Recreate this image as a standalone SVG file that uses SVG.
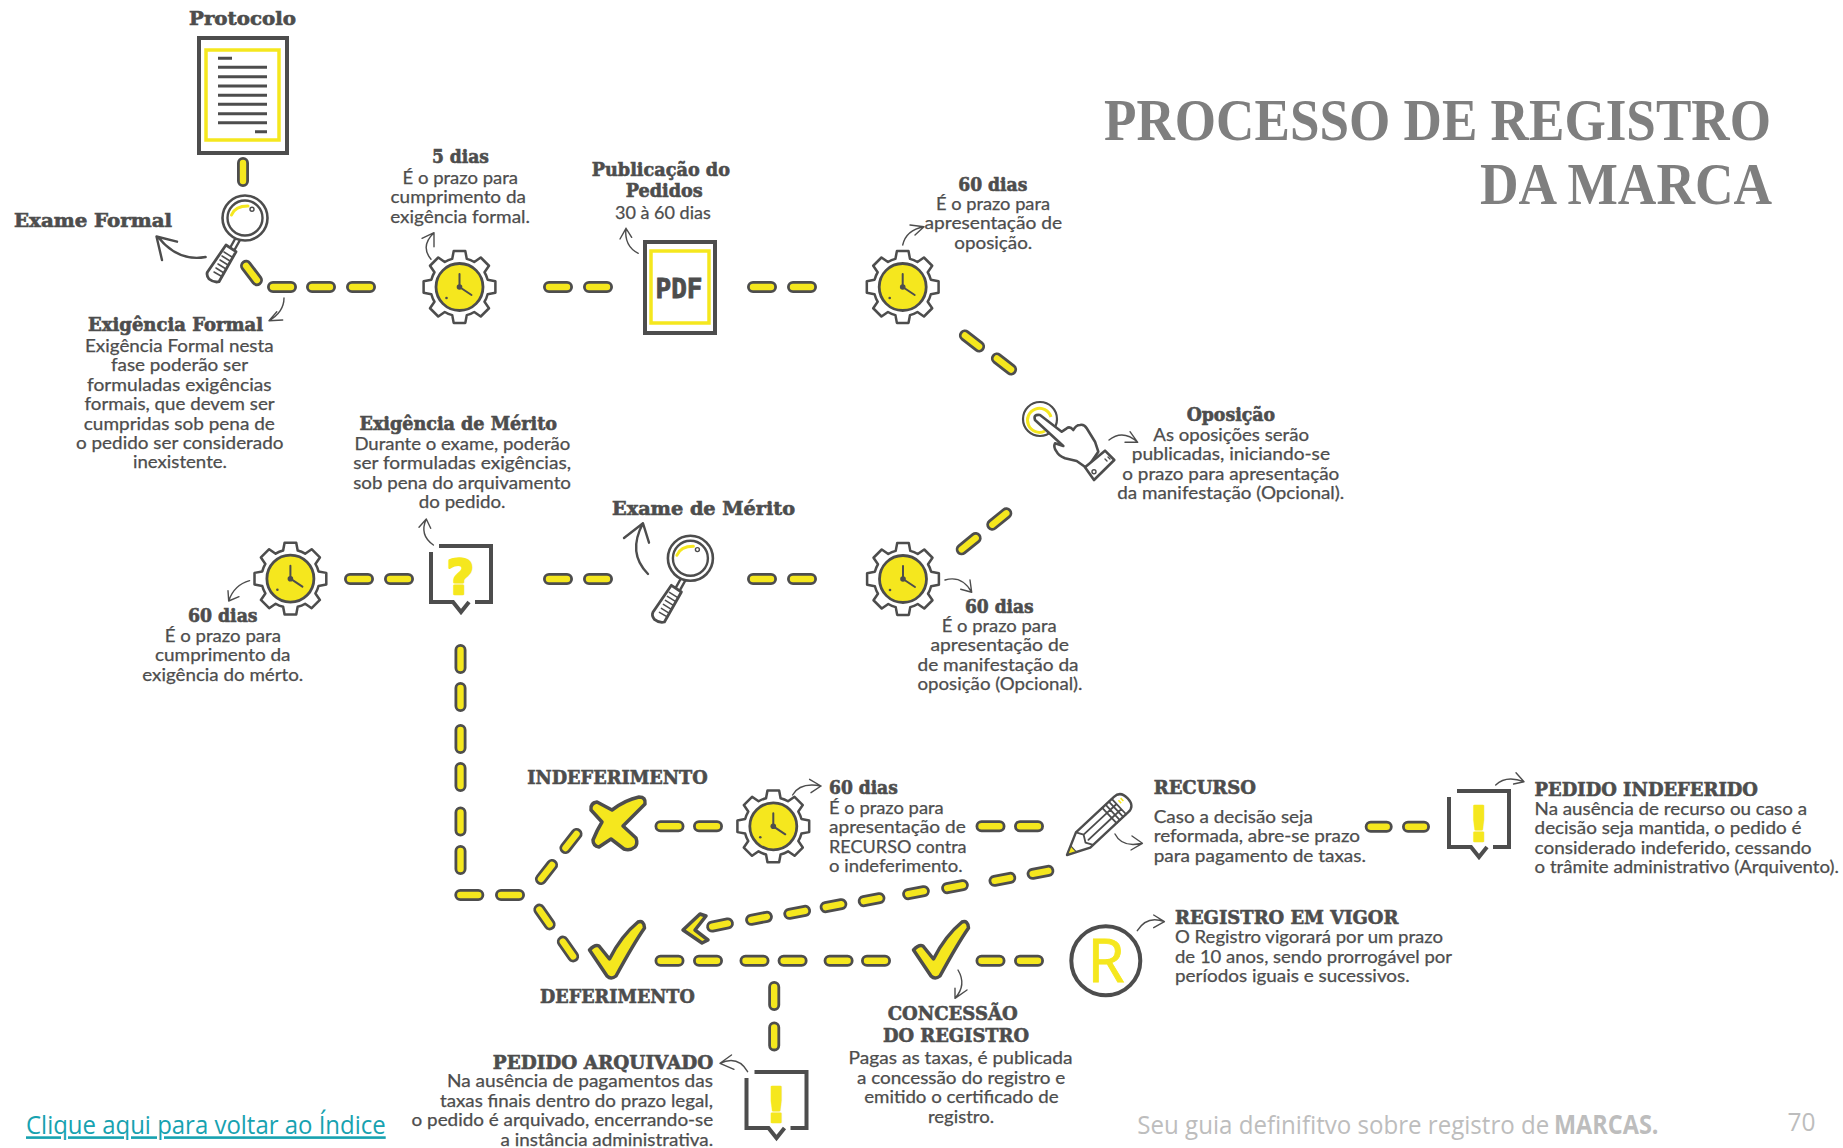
<svg xmlns="http://www.w3.org/2000/svg" xmlns:xlink="http://www.w3.org/1999/xlink" width="1843" height="1148" viewBox="0 0 1843 1148">
<style>
text{fill:#4d4d4d}
.h{font-family:"DejaVu Serif","Liberation Serif",serif;font-weight:700;font-size:18px;stroke:#4d4d4d;stroke-width:.6px;transform:translateY(.8px)}
.b{font-family:"Lato","Open Sans",sans-serif;font-size:17px;font-weight:400;stroke:#4d4d4d;stroke-width:.25px}
.t{font-family:"Liberation Serif",serif;font-weight:700;font-size:60px;fill:#7f7f7f;text-anchor:end}
.f{font-family:"Open Sans",sans-serif;font-size:26px;fill:#bdbdbd}
.l{fill:none;stroke:#4d4d4d;stroke-linecap:round;stroke-linejoin:round}
.d{fill:none;stroke:#4d4d4d;stroke-width:4;stroke-linejoin:miter}
.y{fill:none;stroke:#f5e71e;stroke-width:3.5}
.a{fill:none;stroke:#4d4d4d;stroke-width:1.4;stroke-linecap:round;stroke-linejoin:round}
.a2{stroke-width:2.4}
.pl{fill:#f5e71e;stroke:#4d4d4d;stroke-width:2.8}
.k{fill:#f5e71e;stroke:#4d4d4d;stroke-width:3.5;stroke-linejoin:round}
.q{font-family:"DejaVu Sans",sans-serif;font-weight:700;font-size:48px;fill:#f5e71e;text-anchor:middle;stroke:#f5e71e;stroke-width:2.4px;stroke-linejoin:round}
</style>
<defs>
<rect id="p" class="pl" x="-13.6" y="-4.6" width="27.2" height="9.2" rx="4.6"/>
<rect id="s" class="pl" x="-12.6" y="-4.6" width="25.2" height="9.2" rx="4.6"/>
<g id="clock">
<path transform="scale(.97)" d="M29,-7.5L37,-6L37,6L29,7.5A30,30 0 0 1 25.8,15.2L30.4,21.9L21.9,30.4L15.2,25.8A30,30 0 0 1 7.5,29L6,37L-6,37L-7.5,29A30,30 0 0 1 -15.2,25.8L-21.9,30.4L-30.4,21.9L-25.8,15.2A30,30 0 0 1 -29,7.5L-37,6L-37,-6L-29,-7.5A30,30 0 0 1 -25.8,-15.2L-30.4,-21.9L-21.9,-30.4L-15.2,-25.8A30,30 0 0 1 -7.5,-29L-6,-37L6,-37L7.5,-29A30,30 0 0 1 15.2,-25.8L21.9,-30.4L30.4,-21.9L25.8,-15.2A30,30 0 0 1 29,-7.5Z" fill="#fff" stroke="#4d4d4d" stroke-width="2.6" stroke-linejoin="round"/>
<circle r="23.5" fill="#f5e71e" stroke="#4d4d4d" stroke-width="2.8"/>
<path class="l" stroke-width="2" d="M0,0V-13M0,0L12,8"/>
<circle r="2.8" fill="#4d4d4d"/>
<circle cx="-13" cy="11" r="1.3" fill="#4d4d4d"/>
</g>
<g id="mag">
<path class="l" stroke-width="2.4" fill="#fff" d="M-10,21L-15,30M-5,22L-10,31"/>
<path d="M-19,27L-9,33.7L-26,63.7Q-31,65 -36,61Q-39,57 -37.5,54Z" fill="#fff" stroke="#4d4d4d" stroke-width="2.8" stroke-linejoin="round"/>
<path class="l" stroke-width="1.5" d="M-21,34L-13,39M-23,38L-15,43M-25,42L-17,47M-27,46L-19,51M-29,50L-21,55M-31,54L-24,58"/>
<circle r="22.5" fill="#fff" stroke="#4d4d4d" stroke-width="2.6"/>
<circle r="17.5" fill="#fff" stroke="#4d4d4d" stroke-width="2.4"/>
<path d="M-13.5,-3Q-10,-12 3,-12" fill="none" stroke="#f5e71e" stroke-width="3" stroke-linecap="round"/>
<circle cx="7" cy="-8.7" r="2" fill="#fff" stroke="#4d4d4d" stroke-width="1.4"/>
</g>
<path id="box" class="d" d="M8,0H60V56H44M0,6V56H22L30,66L38,56"/>
<path id="chk" class="k" d="M-18.5,-8Q-13,-14 -9,-12L1.5,1Q13,-22 30,-36Q36,-38 36.5,-30Q26,-15 8,18Q3,22 -1,18Z"/>
</defs>
<rect width="1843" height="1148" fill="#fff"/>

<g id="connectors">
<use href="#p" transform="translate(243 172) rotate(90)"/>
<use href="#p" transform="translate(251.5 273) rotate(53)"/>
<use href="#p" transform="translate(282 287)"/><use href="#p" transform="translate(321 287)"/><use href="#p" transform="translate(361 287)"/>
<use href="#p" transform="translate(558 287)"/><use href="#p" transform="translate(598 287)"/>
<use href="#p" transform="translate(762 287)"/><use href="#p" transform="translate(802 287)"/>
<use href="#p" transform="translate(972 341) rotate(38)"/><use href="#p" transform="translate(1004 364) rotate(38)"/>
<use href="#p" transform="translate(999.3 519) rotate(-39)"/><use href="#p" transform="translate(968.7 543.7) rotate(-39)"/>
<use href="#p" transform="translate(762 579)"/><use href="#p" transform="translate(802 579)"/>
<use href="#p" transform="translate(558 579)"/><use href="#p" transform="translate(598 579)"/>
<use href="#p" transform="translate(359 579)"/><use href="#p" transform="translate(399 579)"/>
<use href="#p" transform="translate(460.5 659) rotate(90)"/><use href="#p" transform="translate(460.5 697) rotate(90)"/>
<use href="#p" transform="translate(460.5 739) rotate(90)"/><use href="#p" transform="translate(460.5 777) rotate(90)"/>
<use href="#p" transform="translate(460.5 821.5) rotate(90)"/><use href="#p" transform="translate(460.5 860) rotate(90)"/>
<use href="#p" transform="translate(469.3 895)"/><use href="#p" transform="translate(510 895)"/>
<use href="#p" transform="translate(546.5 872) rotate(-52)"/><use href="#p" transform="translate(571 841) rotate(-52)"/>
<use href="#p" transform="translate(544.5 917) rotate(55)"/><use href="#p" transform="translate(568 949) rotate(55)"/>
<use href="#p" transform="translate(669.5 826.3)"/><use href="#p" transform="translate(708 826.3)"/>
<use href="#p" transform="translate(990.5 826.3)"/><use href="#p" transform="translate(1029 826.3)"/>
<use href="#s" transform="translate(1378.7 826.7)"/><use href="#s" transform="translate(1416 826.7)"/>
<use href="#p" transform="translate(669.5 960.7)"/><use href="#p" transform="translate(708 960.7)"/>
<use href="#p" transform="translate(754.5 960.7)"/><use href="#p" transform="translate(792.6 960.7)"/>
<use href="#p" transform="translate(838.6 960.7)"/><use href="#p" transform="translate(876 960.7)"/>
<use href="#p" transform="translate(990.5 960.7)"/><use href="#p" transform="translate(1029 960.7)"/>
<use href="#p" transform="translate(774.2 996) rotate(90)"/><use href="#p" transform="translate(774.2 1036.4) rotate(90)"/>
<use href="#s" transform="translate(1040.5 872.3) rotate(-11)"/><use href="#s" transform="translate(1002.4 879.3) rotate(-11)"/>
<use href="#s" transform="translate(955 886.7) rotate(-11)"/><use href="#s" transform="translate(916 892.7) rotate(-11)"/>
<use href="#s" transform="translate(871.6 899.7) rotate(-11)"/><use href="#s" transform="translate(833.5 905.7) rotate(-11)"/>
<use href="#s" transform="translate(797.2 912.3) rotate(-11)"/><use href="#s" transform="translate(759 918.3) rotate(-11)"/>
<use href="#s" transform="translate(720 925) rotate(-11)"/>
<path class="k" stroke-width="2.6" d="M700,914L706,916L695,930L708,940L702,943L683,930Z"/>
<path class="a a2" d="M205.6,257Q178,262 158,237M177,241.7L156.5,236.5L162,260"/>
<path class="a" d="M284,298Q284,312 269,320.7M282.7,320L269,320.7L276.8,311.7"/>
<path class="a" d="M431,259.3Q420,246 434,232.7M422,238.3L434,232.7L434,246.7"/>
<path class="a" d="M638.3,253.3Q624,246 626,228.3M620,239L626,228.3L631.7,237.3"/>
<path class="a" d="M902.7,245Q906,230 924,226.7M910,225L924,226.7L915,235"/>
<path class="a" d="M1109,440Q1123,429 1137.7,442.3M1130,431.7L1137.7,442.3L1125,442.3"/>
<path class="a" d="M945,580Q962,575 971.7,592.3M970,580L971.7,592.3L960.7,589.3"/>
<path class="a" d="M433.4,545Q419,535 426.3,519M419,527.3L426.3,519L430.7,528.3"/>
<path class="a" d="M249.6,580.7Q234,585 228.7,601M228,590.7L228.7,601L239,596.7"/>
<path class="a a2" d="M648,574Q627,553 643,523.3M624,538L643,523.3L649,542.7"/>
<path class="a" d="M792.6,795Q800,782 821,786M809.6,779.3L821,786L811,792.7"/>
<path class="a" d="M1115,834Q1122,848 1142.4,843.3M1132,836L1142.4,843.3L1131,850"/>
<path class="a" d="M1495.7,785Q1506,775 1524,781.7M1516,772.7L1524,781.7L1513.6,784"/>
<path class="a" d="M1137.3,930.7Q1147,915 1164.4,921.7M1153.7,915L1164.4,921.7L1153.7,927.7"/>
<path class="a" d="M958,970Q967,985 955,998.3M967,990L955,998.3L955,988.3"/>
<path class="a" d="M747.6,1071.7Q738,1055 720,1063.3M731.5,1055L720,1063.3L734,1069.3"/>
</g>

<g id="title">
<text class="t" x="1771" y="140" textLength="667" lengthAdjust="spacingAndGlyphs">PROCESSO DE REGISTRO</text>
<text class="t" x="1772" y="204" textLength="292" lengthAdjust="spacingAndGlyphs">DA MARCA</text>
</g>

<g id="protocolo">
<text class="h" x="189" y="24" textLength="107" lengthAdjust="spacingAndGlyphs">Protocolo</text>
<rect x="199" y="38" width="88" height="115" fill="#fff" stroke="#4d4d4d" stroke-width="4"/>
<rect class="y" x="206" y="50" width="73" height="90"/>
<path fill="none" stroke="#4d4d4d" stroke-width="3" d="M218,58.3H232M218,67.3H267M218,76.7H267M218,86H267M218,95.3H267M218,104.3H267M218,113.7H267M218,122.7H267M255,131.7H267"/>
</g>

<g id="exame-formal">
<use href="#mag" x="245" y="218"/>
<text class="h" x="14" y="226" textLength="158" lengthAdjust="spacingAndGlyphs">Exame Formal</text>
</g>

<g id="exigencia-formal">
<text class="h" x="88" y="330" textLength="175" lengthAdjust="spacingAndGlyphs">Exigência Formal</text>
<text class="b" x="85" y="351.7" textLength="188.6" lengthAdjust="spacingAndGlyphs">Exigência Formal nesta</text>
<text class="b" x="111" y="371" textLength="137" lengthAdjust="spacingAndGlyphs">fase poderão ser</text>
<text class="b" x="87" y="390.7" textLength="184.6" lengthAdjust="spacingAndGlyphs">formuladas exigências</text>
<text class="b" x="84.6" y="410" textLength="190" lengthAdjust="spacingAndGlyphs">formais, que devem ser</text>
<text class="b" x="83.8" y="429.7" textLength="191" lengthAdjust="spacingAndGlyphs">cumpridas sob pena de</text>
<text class="b" x="76" y="449" textLength="207.5" lengthAdjust="spacingAndGlyphs">o pedido ser considerado</text>
<text class="b" x="133" y="468.3" textLength="94" lengthAdjust="spacingAndGlyphs">inexistente.</text>
</g>

<g id="prazo-5-dias">
<use href="#clock" x="459.5" y="287"/>
<text class="h" x="432" y="162.7" textLength="57" lengthAdjust="spacingAndGlyphs">5 dias</text>
<text class="b" x="402.5" y="184" textLength="115.5" lengthAdjust="spacingAndGlyphs">É o prazo para</text>
<text class="b" x="390.6" y="203.3" textLength="135.3" lengthAdjust="spacingAndGlyphs">cumprimento da</text>
<text class="b" x="390.2" y="222.7" textLength="139.8" lengthAdjust="spacingAndGlyphs">exigência formal.</text>
</g>

<g id="publicacao">
<rect x="645" y="242" width="70" height="91" fill="#fff" stroke="#4d4d4d" stroke-width="4"/>
<rect class="y" x="651" y="251" width="58" height="72"/>
<text x="655.5" y="298" font-family="DejaVu Sans Mono, monospace" font-weight="700" font-size="26" textLength="47" lengthAdjust="spacingAndGlyphs" stroke="#4d4d4d" stroke-width=".8">PDF</text>
<text class="h" x="591.7" y="175" textLength="138.3" lengthAdjust="spacingAndGlyphs">Publicação do</text>
<text class="h" x="625.7" y="196.7" textLength="77" lengthAdjust="spacingAndGlyphs">Pedidos</text>
<text class="b" x="615" y="219" textLength="95.7" lengthAdjust="spacingAndGlyphs">30 à 60 dias</text>
</g>

<g id="prazo-oposicao">
<use href="#clock" x="902.7" y="287"/>
<text class="h" x="958.3" y="190" textLength="69" lengthAdjust="spacingAndGlyphs">60 dias</text>
<text class="b" x="936" y="210" textLength="114" lengthAdjust="spacingAndGlyphs">É o prazo para</text>
<text class="b" x="924.6" y="229.3" textLength="137.4" lengthAdjust="spacingAndGlyphs">apresentação de</text>
<text class="b" x="954.3" y="248.7" textLength="78" lengthAdjust="spacingAndGlyphs">oposição.</text>
</g>

<g id="oposicao">
<circle cx="1040" cy="419" r="17" fill="#fff" stroke="#4d4d4d" stroke-width="2.2"/>
<path d="M1045,431A12,12 0 1 1 1051,417" fill="none" stroke="#f5e71e" stroke-width="3"/>
<path fill="#fff" stroke="#4d4d4d" stroke-width="2.6" stroke-linejoin="round" stroke-linecap="round" d="M1040,415L1061.7,431.7Q1064,430 1066.7,428.3Q1070,426 1073.3,430Q1076,425 1080,425Q1084,424 1086.7,428.3L1095,441.7L1098.3,451.7L1087,468.3L1076.7,461L1065,458.3Q1058,455 1056.7,451.7Q1053,447 1055,443.3L1063.3,446L1035,420Q1033,414 1040,415Z"/>
<path fill="#fff" stroke="#4d4d4d" stroke-width="2.6" stroke-linejoin="round" d="M1085,467.3L1105,450.7L1114.3,460L1094,480Z"/>
<circle cx="1094" cy="471.7" r="2" fill="none" stroke="#4d4d4d" stroke-width="1.4"/>
<path class="l" stroke-width="1.4" d="M1105,459l2,2M1108,457l2,2"/>
<text class="h" x="1186.7" y="420.7" textLength="88.3" lengthAdjust="spacingAndGlyphs">Oposição</text>
<text class="b" x="1153.3" y="440.7" textLength="155.7" lengthAdjust="spacingAndGlyphs">As oposições serão</text>
<text class="b" x="1131.7" y="460" textLength="198.3" lengthAdjust="spacingAndGlyphs">publicadas, iniciando-se</text>
<text class="b" x="1122.3" y="479.7" textLength="217" lengthAdjust="spacingAndGlyphs">o prazo para apresentação</text>
<text class="b" x="1117.3" y="499" textLength="227" lengthAdjust="spacingAndGlyphs">da manifestação (Opcional).</text>
</g>

<g id="prazo-manifestacao">
<use href="#clock" x="903" y="579"/>
<text class="h" x="965" y="612.3" textLength="68.7" lengthAdjust="spacingAndGlyphs">60 dias</text>
<text class="b" x="941.7" y="631.7" textLength="115" lengthAdjust="spacingAndGlyphs">É o prazo para</text>
<text class="b" x="930.4" y="651" textLength="138.6" lengthAdjust="spacingAndGlyphs">apresentação de</text>
<text class="b" x="917.5" y="670.7" textLength="161" lengthAdjust="spacingAndGlyphs">de manifestação da</text>
<text class="b" x="917.5" y="690" textLength="165" lengthAdjust="spacingAndGlyphs">oposição (Opcional).</text>
</g>

<g id="exame-merito">
<use href="#mag" x="690.4" y="558.3"/>
<text class="h" x="612" y="514" textLength="183" lengthAdjust="spacingAndGlyphs">Exame de Mérito</text>
</g>

<g id="exigencia-merito">
<use href="#box" x="431" y="546"/>
<text class="q" x="460.5" y="594">?</text>
<text class="h" x="359.5" y="429.3" textLength="197.5" lengthAdjust="spacingAndGlyphs">Exigência de Mérito</text>
<text class="b" x="354.4" y="450" textLength="215.8" lengthAdjust="spacingAndGlyphs">Durante o exame, poderão</text>
<text class="b" x="353.2" y="469.3" textLength="217.8" lengthAdjust="spacingAndGlyphs">ser formuladas exigências,</text>
<text class="b" x="353.2" y="489" textLength="217.8" lengthAdjust="spacingAndGlyphs">sob pena do arquivamento</text>
<text class="b" x="418.8" y="508.3" textLength="86.6" lengthAdjust="spacingAndGlyphs">do pedido.</text>
</g>

<g id="prazo-exigencia-merito">
<use href="#clock" x="290.4" y="578.7"/>
<text class="h" x="188" y="621.7" textLength="69.6" lengthAdjust="spacingAndGlyphs">60 dias</text>
<text class="b" x="164.7" y="641.7" textLength="116.3" lengthAdjust="spacingAndGlyphs">É o prazo para</text>
<text class="b" x="155" y="661" textLength="135.5" lengthAdjust="spacingAndGlyphs">cumprimento da</text>
<text class="b" x="142.3" y="680.7" textLength="161" lengthAdjust="spacingAndGlyphs">exigência do mérto.</text>
</g>

<g id="indeferimento">
<path class="k" d="M639,797Q646,797 645,804Q632,817 623,826L636,838Q638,844 635,847Q630,851 624,849L611,839L599,847Q593,846 593,840Q597,830 602,822L591,810Q590,803 597,802L612,810Q625,800 639,797Z"/>
<text class="h" x="527.2" y="783.3" textLength="180.5" lengthAdjust="spacingAndGlyphs">INDEFERIMENTO</text>
</g>

<g id="prazo-recurso">
<use href="#clock" x="773.3" y="826.3"/>
<text class="h" x="829" y="793.3" textLength="68.8" lengthAdjust="spacingAndGlyphs">60 dias</text>
<text class="b" x="829" y="813.7" textLength="114.7" lengthAdjust="spacingAndGlyphs">É o prazo para</text>
<text class="b" x="829" y="833" textLength="136.7" lengthAdjust="spacingAndGlyphs">apresentação de</text>
<text class="b" x="829" y="852.7" textLength="137.6" lengthAdjust="spacingAndGlyphs">RECURSO contra</text>
<text class="b" x="829" y="871.7" textLength="133.5" lengthAdjust="spacingAndGlyphs">o indeferimento.</text>
</g>

<g id="recurso">
<g transform="translate(1067 855) rotate(-43)">
<path fill="#fff" stroke="#4d4d4d" stroke-width="2.4" stroke-linejoin="round" d="M0,0L22,-10.5H74Q83,-10.5 83,0Q83,10.5 74,10.5H22Z"/>
<path d="M1,0L9,-3.8V3.8Z" fill="#f5e71e" stroke="#4d4d4d" stroke-width="1.2"/>
<path class="l" stroke-width="1.8" d="M22,-10.5L26,-3.5L22,3.5L26,10.5M26,-3.5H58M26,3.5H58M58,-10.5V10.5M71,-10.5V10.5M58,-3.5H71M58,3.5H71M62.5,-10.5V10.5M67,-10.5V10.5"/>
<path d="M75,-5V-1M78,-5V-1" stroke="#f5e71e" stroke-width="1.6"/>
</g>
<text class="h" x="1153.7" y="793.3" textLength="102.3" lengthAdjust="spacingAndGlyphs">RECURSO</text>
<text class="b" x="1153.7" y="822.7" textLength="159.3" lengthAdjust="spacingAndGlyphs">Caso a decisão seja</text>
<text class="b" x="1153.7" y="842.3" textLength="206.3" lengthAdjust="spacingAndGlyphs">reformada, abre-se prazo</text>
<text class="b" x="1153.7" y="861.7" textLength="212.3" lengthAdjust="spacingAndGlyphs">para pagamento de taxas.</text>
</g>

<g id="pedido-indeferido">
<use href="#box" x="1449" y="791"/>
<text class="q" x="1479" y="841">!</text>
<text class="h" x="1534.6" y="795" textLength="223.4" lengthAdjust="spacingAndGlyphs">PEDIDO INDEFERIDO</text>
<text class="b" x="1534.6" y="815" textLength="272.4" lengthAdjust="spacingAndGlyphs">Na ausência de recurso ou caso a</text>
<text class="b" x="1534.6" y="834.3" textLength="266.8" lengthAdjust="spacingAndGlyphs">decisão seja mantida, o pedido é</text>
<text class="b" x="1534.6" y="854" textLength="277" lengthAdjust="spacingAndGlyphs">considerado indeferido, cessando</text>
<text class="b" x="1534.6" y="873.3" textLength="304.2" lengthAdjust="spacingAndGlyphs">o trâmite administrativo (Arquivento).</text>
</g>

<g id="deferimento">
<use href="#chk" x="608" y="958"/>
<text class="h" x="540" y="1002.3" textLength="154.8" lengthAdjust="spacingAndGlyphs">DEFERIMENTO</text>
</g>

<g id="concessao">
<use href="#chk" x="932" y="958"/>
<text class="h" x="887.7" y="1019.3" textLength="130" lengthAdjust="spacingAndGlyphs">CONCESSÃO</text>
<text class="h" x="883" y="1041.7" textLength="146" lengthAdjust="spacingAndGlyphs">DO REGISTRO</text>
<text class="b" x="848.6" y="1064.3" textLength="224" lengthAdjust="spacingAndGlyphs">Pagas as taxas, é publicada</text>
<text class="b" x="857" y="1084" textLength="208.3" lengthAdjust="spacingAndGlyphs">a concessão do registro e</text>
<text class="b" x="864.2" y="1103.3" textLength="194.3" lengthAdjust="spacingAndGlyphs">emitido o certificado de</text>
<text class="b" x="928" y="1122.7" textLength="66" lengthAdjust="spacingAndGlyphs">registro.</text>
</g>

<g id="registro-em-vigor">
<circle cx="1105.8" cy="960.7" r="34.5" fill="#fff" stroke="#4d4d4d" stroke-width="4"/>
<text x="1106" y="982.3" font-family="Open Sans, sans-serif" font-size="60" text-anchor="middle" style="fill:#f5e71e;stroke:#f5e71e;stroke-width:.8px">R</text>
<text class="h" x="1175" y="923.3" textLength="223.4" lengthAdjust="spacingAndGlyphs">REGISTRO EM VIGOR</text>
<text class="b" x="1175" y="943.3" textLength="268" lengthAdjust="spacingAndGlyphs">O Registro vigorará por um prazo</text>
<text class="b" x="1175" y="962.7" textLength="277" lengthAdjust="spacingAndGlyphs">de 10 anos, sendo prorrogável por</text>
<text class="b" x="1175" y="982.3" textLength="234.7" lengthAdjust="spacingAndGlyphs">períodos iguais e sucessivos.</text>
</g>

<g id="pedido-arquivado">
<use href="#box" x="746.5" y="1072"/>
<text class="q" x="776.5" y="1122">!</text>
<text class="h" x="492.8" y="1068.3" textLength="220.4" lengthAdjust="spacingAndGlyphs">PEDIDO ARQUIVADO</text>
<text class="b" x="447" y="1086.7" textLength="266" lengthAdjust="spacingAndGlyphs">Na ausência de pagamentos das</text>
<text class="b" x="440" y="1106.7" textLength="273" lengthAdjust="spacingAndGlyphs">taxas finais dentro do prazo legal,</text>
<text class="b" x="411.6" y="1126.3" textLength="301.6" lengthAdjust="spacingAndGlyphs">o pedido é arquivado, encerrando-se</text>
<text class="b" x="500.6" y="1145.7" textLength="212.6" lengthAdjust="spacingAndGlyphs">a instância administrativa.</text>
</g>

<g id="footer">
<text class="f" x="26" y="1134.3" textLength="359.7" lengthAdjust="spacingAndGlyphs" text-decoration="underline" style="fill:#17a2b0">Clique aqui para voltar ao Índice</text>
<text class="f" x="1137.3" y="1133.6" textLength="412" lengthAdjust="spacingAndGlyphs">Seu guia definifitvo sobre registro de</text>
<text class="f" x="1554" y="1133.6" font-weight="700" textLength="104.5" lengthAdjust="spacingAndGlyphs">MARCAS.</text>
<text class="f" x="1787.6" y="1131" textLength="28" lengthAdjust="spacingAndGlyphs">70</text>
</g>
</svg>
